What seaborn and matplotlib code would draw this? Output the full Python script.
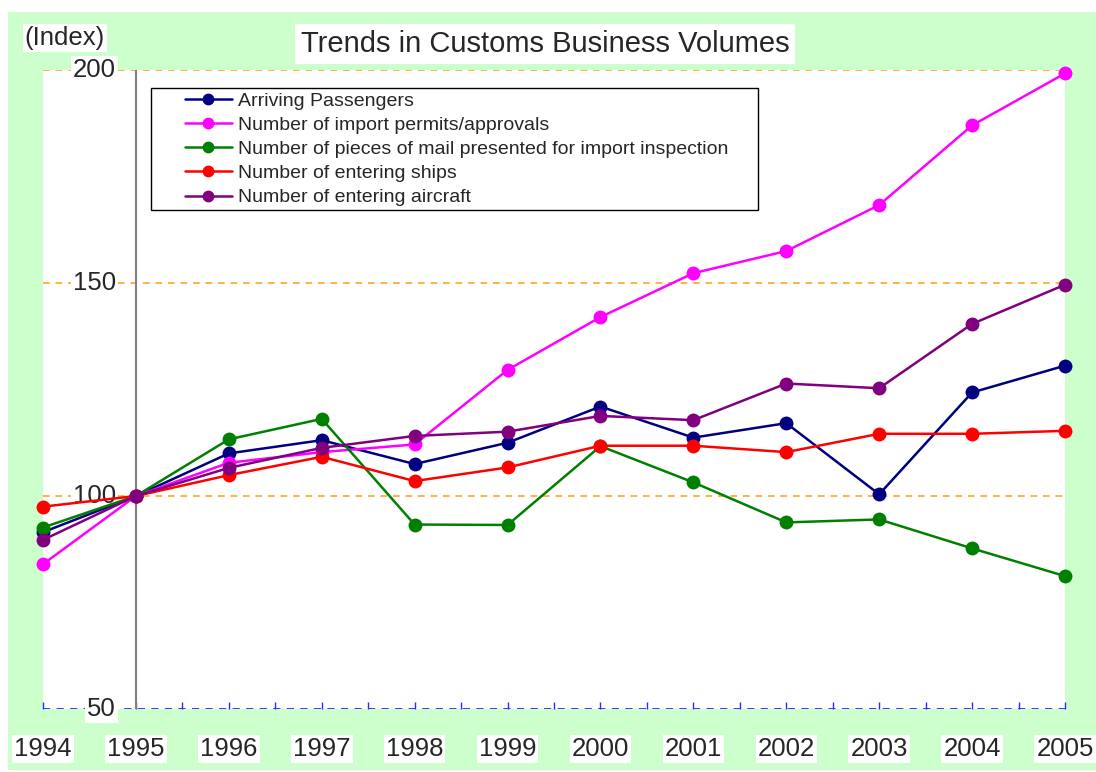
import numpy as np
import pandas as pd
import seaborn as sns
import matplotlib.pyplot as plt
from matplotlib.patches import Rectangle

# index values (1995 = 100)
years = [1994, 1995, 1996, 1997, 1998, 1999, 2000, 2001, 2002, 2003, 2004, 2005]
arriving = [91.5, 100, 110.0, 113.1, 107.5, 112.5, 121.0, 113.7, 117.1, 100.4, 124.3, 130.6]
permits = [84.0, 100, 107.8, 110.3, 112.1, 129.6, 142.0, 152.3, 157.5, 168.3, 187.0, 199.2]
mail = [92.6, 100, 113.3, 118.1, 93.3, 93.2, 111.7, 103.2, 93.8, 94.5, 87.7, 81.2]
ships = [97.5, 100, 104.9, 109.2, 103.5, 106.7, 111.8, 111.8, 110.3, 114.6, 114.6, 115.3]
aircraft = [89.7, 100, 106.6, 111.3, 114.1, 115.1, 118.8, 117.8, 126.4, 125.3, 140.4, 149.6]

series_names = ["Arriving Passengers",
                "Number of import permits/approvals",
                "Number of pieces of mail presented for import inspection",
                "Number of entering ships",
                "Number of entering aircraft"]
series_vals = [arriving, permits, mail, ships, aircraft]
colors = ["#000080", "#FF00FF", "#008000", "#FF0000", "#800080"]
y_ticks = [50, 100, 150, 200]

df = pd.DataFrame({
    "year": years * len(series_names),
    "value": sum(series_vals, []),
    "series": [n for n in series_names for _ in years],
})

sns.set_style("white")
plt.rcParams["font.family"] = ["Liberation Sans", "DejaVu Sans"]

fig = plt.figure(figsize=(10.96, 7.72), dpi=100)
fig.patch.set_facecolor("white")
fig.patches.append(Rectangle((8/1096, 2/772), 1088/1096, 758/772, transform=fig.transFigure,
                             facecolor="#CCFFCC", edgecolor="none", zorder=-10))

ax = fig.add_axes([43/1096, 63/772, 1022/1096, 639/772])
ax.set_facecolor("white")

sns.lineplot(data=df, x="year", y="value", hue="series", hue_order=series_names,
             palette=dict(zip(series_names, colors)), marker="o", markersize=10,
             markeredgewidth=0, linewidth=1.8, legend=False, ax=ax, clip_on=False, zorder=5)
handles = list(ax.lines[:len(series_names)])

ax.set_xlim(1994, 2005)
ax.set_ylim(50, 200)
for s in ax.spines.values():
    s.set_visible(False)
ax.set_xlabel("")
ax.set_ylabel("")
ax.set_yticks([])
ax.set_xticks(np.arange(1994, 2005.01, 0.5))
ax.tick_params(axis="x", direction="in", length=5, color="#2B2BFF", width=1,
               labelbottom=False, bottom=True)

# grid lines and axes lines
for v in [100, 150, 200]:
    ax.axhline(v, color="#FFA520", lw=1.2, ls=(0, (4, 3.5)), zorder=1)
ax.axhline(50, color="#2B2BFF", lw=1.3, ls=(0, (4, 3.5)), zorder=2)
ax.axvline(1995, color="#808080", lw=1.5, zorder=2)

box = dict(facecolor="white", edgecolor="none", pad=1.5)
for v in y_ticks:
    ax.annotate(str(v), xy=(1995, v), xytext=(-20, 0), textcoords="offset pixels",
                ha="right", va="center", fontsize=18.5, bbox=box, zorder=4,
                annotation_clip=False)
for yr in years:
    ax.annotate(str(yr), xy=(yr, 50), xytext=(0, -40), textcoords="offset pixels",
                ha="center", va="center", fontsize=18.5, bbox=box, zorder=4,
                annotation_clip=False)

fig.text(65/1096, 1 - 38/772, "(Index)", ha="center", va="center", fontsize=18.5, bbox=box)
fig.text(545/1096, 1 - 44/772, "Trends in Customs Business Volumes", ha="center", va="center",
         fontsize=21, bbox=dict(facecolor="white", edgecolor="none", pad=4))

# legend: frameless, with a square box drawn around it
frame = Rectangle((151/1096, 1 - 210/772), 607/1096, 122/772, transform=fig.transFigure,
                  facecolor="white", edgecolor="black", lw=1, zorder=8, clip_on=False)
ax.add_patch(frame)
leg = ax.legend(handles, series_names, loc="upper left", frameon=False,
                bbox_to_anchor=(185/1096, 1 - 92/772), bbox_transform=fig.transFigure,
                borderpad=0, borderaxespad=0, fontsize=14, handlelength=2.4,
                handletextpad=0.3, labelspacing=0.34, markerscale=0.85)
leg.set_zorder(10)

fig.savefig("out.png", dpi=100)
